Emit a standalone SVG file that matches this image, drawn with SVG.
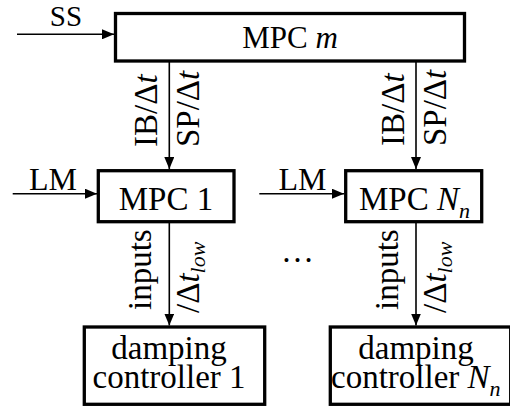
<svg xmlns="http://www.w3.org/2000/svg" width="510" height="409" viewBox="0 0 510 409">
  <style>
    text { font-family: "Liberation Serif", "Times New Roman", serif; fill: #000; }
    .lbl { font-size: 33px; }
    .it { font-style: italic; }
    .sub { font-style: italic; font-size: 22px; }
    .box { fill: #fff; stroke: #000; stroke-width: 3.3; }
    .wire { fill: none; stroke: #000; stroke-width: 1.6; marker-end: url(#arrow); }
  </style>
  <defs>
    <marker id="arrow" markerUnits="userSpaceOnUse" markerWidth="12" markerHeight="10" refX="12" refY="5" orient="auto">
      <path d="M0,0 L12,5 L0,10 z" fill="#000"/>
    </marker>
  </defs>

  <!-- connectors -->
  <g id="connectors">
    <line class="wire" x1="17" y1="34.3" x2="114" y2="34.3"/>
    <line class="wire" x1="12.7" y1="193.7" x2="97" y2="193.7"/>
    <line class="wire" x1="259.3" y1="193.7" x2="344" y2="193.7"/>
    <line class="wire" x1="169.3" y1="62" x2="169.3" y2="169"/>
    <line class="wire" x1="416" y1="62" x2="416" y2="169"/>
    <line class="wire" x1="169.3" y1="223" x2="169.3" y2="325.5"/>
    <line class="wire" x1="416" y1="223" x2="416" y2="325.5"/>
  </g>

  <!-- connector labels -->
  <g id="labels">
    <text class="lbl" x="66" y="26" text-anchor="middle" style="font-size:29px">SS</text>
    <text class="lbl" x="53" y="190" text-anchor="middle" style="font-size:32px">LM</text>
    <text class="lbl" x="302.5" y="190" text-anchor="middle" style="font-size:32px">LM</text>

    <text class="lbl" transform="translate(157,147) rotate(-90)">IB/Δ<tspan class="it">t</tspan></text>
    <text class="lbl" transform="translate(199,147) rotate(-90)">SP/Δ<tspan class="it">t</tspan></text>
    <text class="lbl" transform="translate(404,146) rotate(-90)">IB/Δ<tspan class="it">t</tspan></text>
    <text class="lbl" transform="translate(446,146) rotate(-90)">SP/Δ<tspan class="it">t</tspan></text>

    <text class="lbl" transform="translate(151,310) rotate(-90)">inputs</text>
    <text class="lbl" transform="translate(199,313) rotate(-90)">/Δ<tspan class="it">t</tspan><tspan class="sub" dy="6">low</tspan></text>
    <text class="lbl" transform="translate(398,310) rotate(-90)">inputs</text>
    <text class="lbl" transform="translate(446,313) rotate(-90)">/Δ<tspan class="it">t</tspan><tspan class="sub" dy="6">low</tspan></text>

    <text class="lbl" x="297.5" y="262" text-anchor="middle">…</text>
  </g>

  <!-- blocks -->
  <g id="mpc-m">
    <rect class="box" x="115.5" y="13.5" width="349" height="47.5"/>
    <text class="lbl" x="290" y="48" text-anchor="middle" style="font-size:31px">MPC <tspan class="it">m</tspan></text>
  </g>

  <g id="mpc-1">
    <rect class="box" x="98.3" y="170.7" width="135.7" height="51"/>
    <text class="lbl" x="166" y="210" text-anchor="middle">MPC 1</text>
  </g>

  <g id="mpc-n">
    <rect class="box" x="345.7" y="170.7" width="136" height="51"/>
    <text class="lbl" x="359" y="210">MPC <tspan class="it">N</tspan><tspan class="sub" dy="8">n</tspan></text>
  </g>

  <g id="damping-1">
    <rect class="box" x="84.3" y="327" width="180.4" height="77.3"/>
    <text class="lbl" x="169" y="359" text-anchor="middle">damping</text>
    <text class="lbl" x="169" y="388" text-anchor="middle">controller 1</text>
  </g>

  <g id="damping-n">
    <rect class="box" x="330.3" y="327" width="180.4" height="77.3"/>
    <text class="lbl" x="416" y="359" text-anchor="middle">damping</text>
    <text class="lbl" x="331" y="388">controller <tspan class="it">N</tspan><tspan class="sub" dy="8">n</tspan></text>
  </g>
</svg>
